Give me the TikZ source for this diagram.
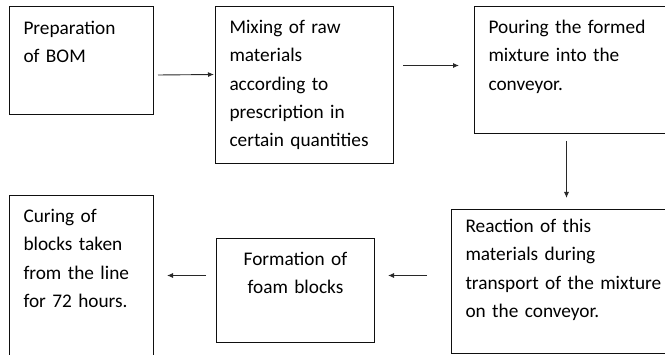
\documentclass[tikz,border=0pt]{standalone}
\usepackage{fontspec}
\setmainfont{Carlito}
\usetikzlibrary{positioning}
\usetikzlibrary{arrows.meta}
\definecolor{boxline}{RGB}{15, 15, 15}
\definecolor{arrowline}{RGB}{40, 40, 40}

\begin{document}
\begin{tikzpicture}
  [
    x = 1pt, y = 1pt,
    stage/.style = {rectangle, draw=boxline, line width=1pt, anchor=north west,
                    inner xsep=14pt, inner ysep=0pt, align=left, text height=27pt,
                    font=\fontsize{19.3}{28.3}\selectfont},
    flow/.style  = {draw=arrowline, line width=0.9pt, -{Latex[length=6pt,width=5pt]}}
  ]
  \clip (0,0) rectangle (665,-355);
  % top row
  \node [stage, text width=116pt, text depth=80pt, text height=28pt] (bom) at (9,-6)
    {Preparation\\of BOM};
  \node [stage, text width=150pt, text depth=130pt] (mix) [right=61pt of bom.north east, anchor=north west]
    {Mixing of raw\\materials\\according to\\prescription in\\certain quantities};
  \node [stage, text width=170pt, text depth=100pt] (pour) [right=80pt of mix.north east, anchor=north west]
    {Pouring the formed\\mixture into the\\conveyor.};
  % bottom row
  \node [stage, text width=116pt, text depth=140pt] (cure) at (9,-195)
    {Curing of\\blocks taken\\from the line\\for 72 hours.};
  \node [stage, text width=130pt, text depth=77pt, align=center] (form) [below right=43pt and 62pt of cure.north east, anchor=north west]
    {Formation of\\foam blocks};
  \node [stage, text width=200pt, text depth=121pt, text height=23pt] (react) [above right=29pt and 76pt of form.north east, anchor=north west]
    {Reaction of this\\materials during\\transport of the mixture\\on the conveyor.};
  % connectors
  \draw [flow] ([shift={(4pt,-14.5pt)}]bom.east) -- ([shift={(-1pt,10.5pt)}]mix.west);
  \draw [flow] ([shift={(9pt,19.5pt)}]mix.east) -- ([shift={(-15pt,4.5pt)}]pour.west);
  \draw [flow] ([shift={(-7pt,-7pt)}]pour.south) -- ([shift={(1pt,11pt)}]react.north);
  \draw [flow] ([shift={(-24pt,6pt)}]react.west) -- ([shift={(13pt,15pt)}]form.east);
  \draw [flow] ([shift={(-10pt,15pt)}]form.west) -- ([shift={(13pt,3.5pt)}]cure.east);
\end{tikzpicture}
\end{document}
